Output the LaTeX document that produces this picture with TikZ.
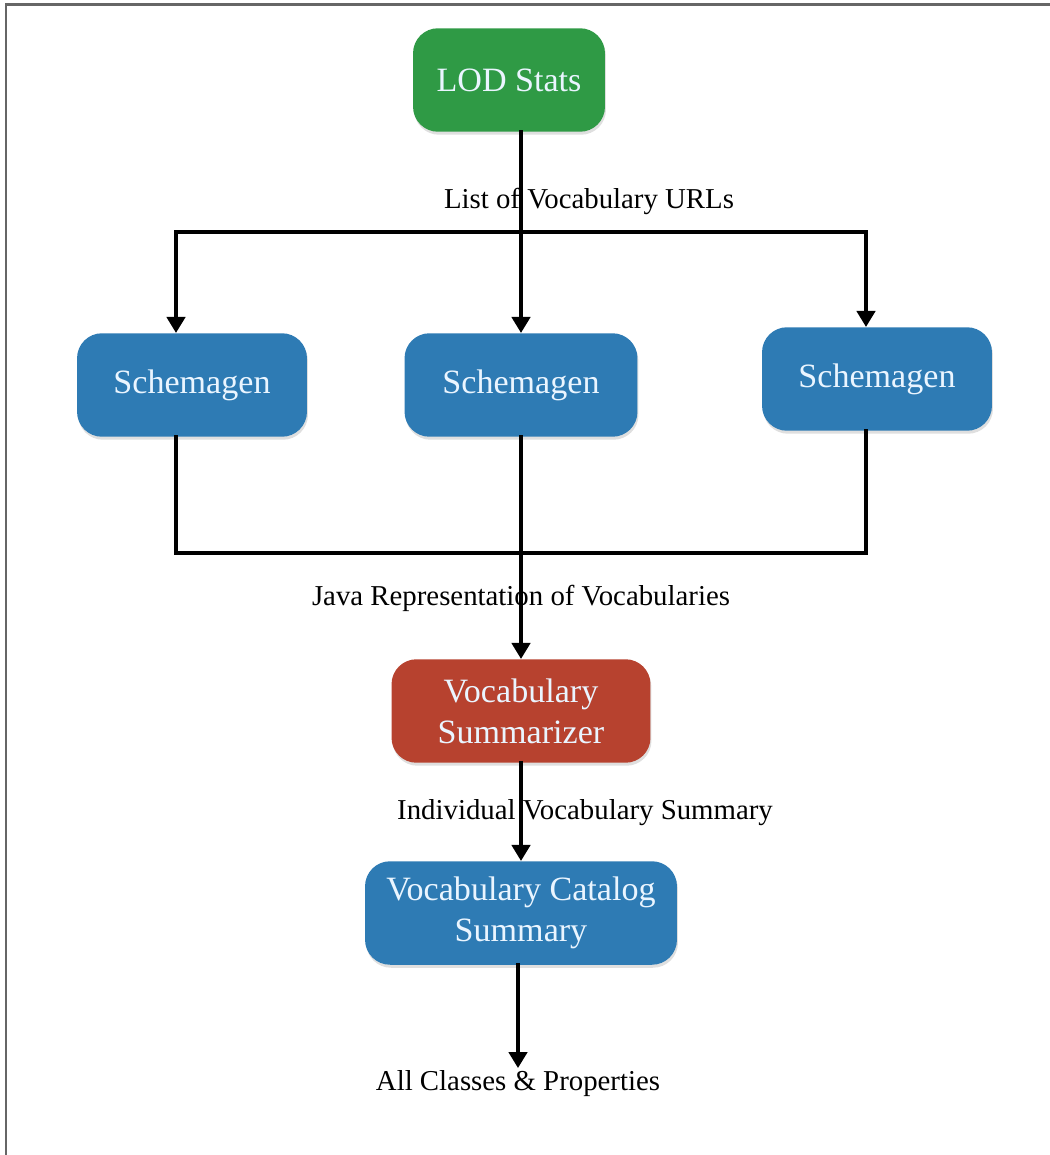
\documentclass[tikz,border=0pt]{standalone}
\usepackage{fontspec}
\setmainfont{Liberation Serif}
\usepackage{tikz}
\usetikzlibrary{arrows.meta,shadows}
\definecolor{lodgreen}{HTML}{2F9A45}
\definecolor{schemablue}{HTML}{2E7BB4}
\definecolor{sumred}{HTML}{B7422F}
\definecolor{boxtext}{HTML}{EAF5FF}
\definecolor{framegray}{HTML}{666666}
\tikzset{%
	box/.style    = {rectangle, rounded corners=0.5cm, fill=schemablue,
		text=boxtext, minimum height=2.07cm, align=center,
		font=\fontsize{19.4}{23.5}\selectfont,
		drop shadow={opacity=0.25, shadow xshift=0.02cm, shadow yshift=-0.06cm}},
	flowlabel/.style = {inner sep=1pt, font=\fontsize{16.4}{19}\selectfont}, % Edge text
	flow/.style   = {line width=0.065cm, line cap=rect},
	flowarrow/.style = {flow, -{Triangle[width=0.37cm,length=0.32cm]}}
}
\begin{document}
\begin{tikzpicture}[x=0.02cm, y=-0.02cm]
                \useasboundingbox (0,0) rectangle (1049,1155);
                \draw[framegray, line width=0.06cm] (6,1160) -- (6,5) -- (1055,5);

                \node[box, fill=lodgreen, minimum width=3.84cm] (lod) at (509,80) {LOD Stats};
                \node[box, minimum width=4.6cm] (schemaA) at (192,385) {Schemagen};
                \node[box, minimum width=4.66cm] (schemaB) at (521,385) {Schemagen};
                \node[box, minimum width=4.6cm] (schemaC) at (877,379) {Schemagen};
                \node[box, fill=sumred, minimum width=5.18cm] (summ) at (521,711) {Vocabulary\\Summarizer};
                \node[box, minimum width=6.24cm] (catalog) at (521,913) {Vocabulary Catalog\\Summary};

                \coordinate (split)  at (521,232);
                \coordinate (splitL) at (176,232);
                \coordinate (splitR) at (866,232);
                \coordinate (joinL)  at (176,553);
                \coordinate (joinR)  at (866,553);

                \node[flowlabel] (urls)  at (589,201) {List of Vocabulary URLs};
                \node[flowlabel] (java)  at (521,598) {Java Representation of Vocabularies};
                \node[flowlabel] (indiv) at (585,813) {Individual Vocabulary Summary};
                \node[flowlabel, anchor=north] (all) at (518,1068) {All Classes \& Properties};

                \draw[flowarrow] (lod.south -| split) -- (schemaB);
                \draw[flow] (splitL) -- (splitR);
                \draw[flowarrow] (splitL) -- (schemaA.north -| splitL);
                \draw[flowarrow] (splitR) -- (schemaC.north -| splitR);
                \draw[flow] (schemaA.south -| joinL) -- (joinL) -- (joinR) -- (schemaC.south -| joinR);
                \draw[flowarrow] (schemaB) -- (summ);
                \draw[flowarrow] (summ) -- (catalog);
                \draw[flowarrow] (catalog.south -| all.north) -- (all.north);
            \end{tikzpicture}
\end{document}
